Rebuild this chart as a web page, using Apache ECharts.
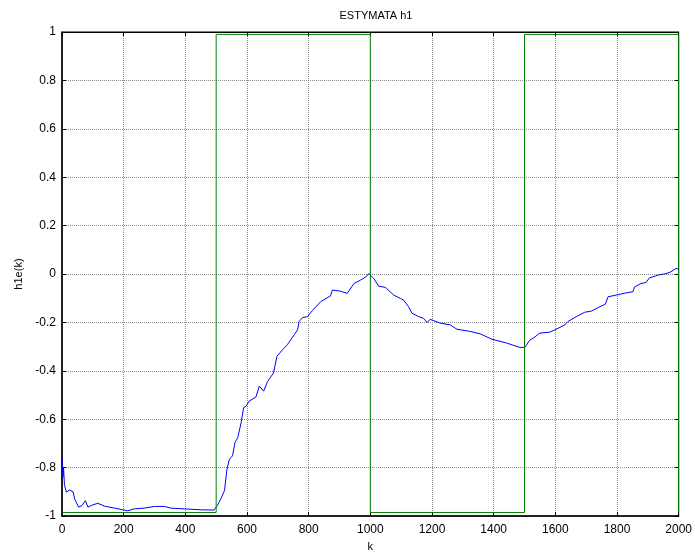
<!DOCTYPE html>
<html>
<head>
<meta charset="utf-8">
<script src="https://cdn.jsdelivr.net/npm/echarts@6/dist/echarts.min.js"></script>
<style>
  html, body { margin: 0; padding: 0; background: #fff; }
  #chart { width: 695px; height: 557px; }
</style>
</head>
<body>
<div id="chart"></div>
<script>
// Estimate of h1 over samples k
const estK = [0, 3, 5, 8, 14, 25, 36, 41, 54, 65, 76, 84, 95, 116, 138, 170, 197, 213, 235, 267, 300, 332, 353, 396, 450, 493,
  504, 515, 527, 535, 543, 553, 561, 570, 581, 589, 597, 607, 629, 640, 654, 667, 686, 697, 715, 731, 753, 764, 769, 780, 796,
  812, 839, 871, 877, 904, 925, 947, 968, 985, 995, 998, 1011, 1027, 1049, 1076, 1098, 1108, 1124, 1135, 1157, 1173, 1184, 1194,
  1227, 1259, 1281, 1324, 1356, 1394, 1442, 1485, 1501, 1507, 1518, 1528, 1550, 1582, 1598, 1631, 1641, 1668, 1695, 1717, 1744,
  1762, 1771, 1797, 1825, 1852, 1857, 1878, 1894, 1905, 1932, 1959, 1975, 1991, 2000];
const estH1 = [-0.76, -0.84, -0.80, -0.87, -0.901, -0.892, -0.90, -0.929, -0.963, -0.956, -0.936, -0.963, -0.956, -0.947, -0.959,
  -0.967, -0.974, -0.978, -0.970, -0.967, -0.960, -0.960, -0.967, -0.970, -0.974, -0.975,
  -0.956, -0.929, -0.895, -0.806, -0.765, -0.751, -0.696, -0.676, -0.614, -0.552, -0.546, -0.525, -0.508, -0.463, -0.484, -0.443,
  -0.409, -0.340, -0.313, -0.292, -0.251, -0.231, -0.196, -0.180, -0.176, -0.151, -0.114, -0.090, -0.066, -0.071, -0.080, -0.039,
  -0.025, -0.012, 0.002, -0.005, -0.018, -0.050, -0.055, -0.087, -0.101, -0.108, -0.135, -0.162, -0.176, -0.183, -0.200, -0.187,
  -0.203, -0.210, -0.228, -0.237, -0.247, -0.269, -0.285, -0.303, -0.303, -0.299, -0.272, -0.265, -0.244, -0.240, -0.231, -0.210,
  -0.196, -0.176, -0.158, -0.153, -0.135, -0.125, -0.094, -0.087, -0.079, -0.073, -0.053, -0.039, -0.035, -0.016, -0.005, 0.002,
  0.009, 0.023, 0.02];

// Reference square wave (true h1)
const refK = [0, 500, 500, 1000, 1000, 1500, 1500, 2000, 2000];
const refH1 = [-0.985, -0.985, 0.99, 0.99, -0.985, -0.985, 0.99, 0.99, -0.985];

const xTicks = [0, 200, 400, 600, 800, 1000, 1200, 1400, 1600, 1800, 2000];
const yTicks = [-1, -0.8, -0.6, -0.4, -0.2, 0, 0.2, 0.4, 0.6, 0.8, 1];

const FONT = 'Liberation Sans, Arial, sans-serif';
const pair = (xs, ys) => xs.map((x, i) => [x, ys[i]]);

const gridLine = { show: true, lineStyle: { color: '#8a8a8a', width: 1, type: [1, 1] } };
const tickIn = { show: true, inside: true, length: 4, lineStyle: { color: '#000' } };

const chart = echarts.init(document.getElementById('chart'), null, { renderer: 'canvas' });
chart.setOption({
  animation: false,
  backgroundColor: '#fff',
  title: {
    text: 'ESTYMATA h1', left: 371, top: 5, textAlign: 'center',
    textStyle: { fontFamily: FONT, fontSize: 11, fontWeight: 'normal', color: '#000' }
  },
  grid: { left: 62, right: 14, top: 32, bottom: 38, show: true, borderColor: '#000', borderWidth: 1 },
  xAxis: [{
    type: 'value', min: xTicks[0], max: xTicks[xTicks.length - 1], interval: 200,
    name: 'k', nameLocation: 'middle', nameGap: 24,
    nameTextStyle: { fontFamily: FONT, fontSize: 11, color: '#000' },
    axisLine: { show: true, onZero: false, lineStyle: { color: '#000', width: 1.5 } },
    axisTick: tickIn,
    axisLabel: { fontFamily: FONT, fontSize: 12, color: '#000', margin: 8, formatter: v => String(v) },
    splitLine: gridLine
  }, {
    type: 'value', position: 'top', min: 0, max: 2000, interval: 200,
    axisLine: { show: true, onZero: false, lineStyle: { color: '#000' } },
    axisTick: tickIn, axisLabel: { show: false }, splitLine: { show: false }
  }],
  yAxis: [{
    type: 'value', min: yTicks[0], max: yTicks[yTicks.length - 1], interval: 0.2,
    name: 'h1e(k)', nameLocation: 'middle', nameGap: 38, nameRotate: 90,
    nameTextStyle: { fontFamily: FONT, fontSize: 11, color: '#000' },
    axisLine: { show: true, onZero: false, lineStyle: { color: '#000', width: 1.5 } },
    axisTick: tickIn,
    axisLabel: {
      fontFamily: FONT, fontSize: 12, color: '#000', margin: 6,
      formatter: v => String(Math.round(v * 10) / 10)
    },
    splitLine: gridLine
  }, {
    type: 'value', position: 'right', min: -1, max: 1, interval: 0.2,
    axisLine: { show: true, onZero: false, lineStyle: { color: '#000' } },
    axisTick: tickIn, axisLabel: { show: false }, splitLine: { show: false }
  }],
  series: [{
    type: 'line', data: pair(estK, estH1), showSymbol: false,
    lineStyle: { color: '#0000ff', width: 1 }, z: 3
  }, {
    type: 'line', data: pair(refK, refH1), showSymbol: false,
    lineStyle: { color: '#008000', width: 1 }, z: 4
  }]
});
</script>
</body>
</html>
